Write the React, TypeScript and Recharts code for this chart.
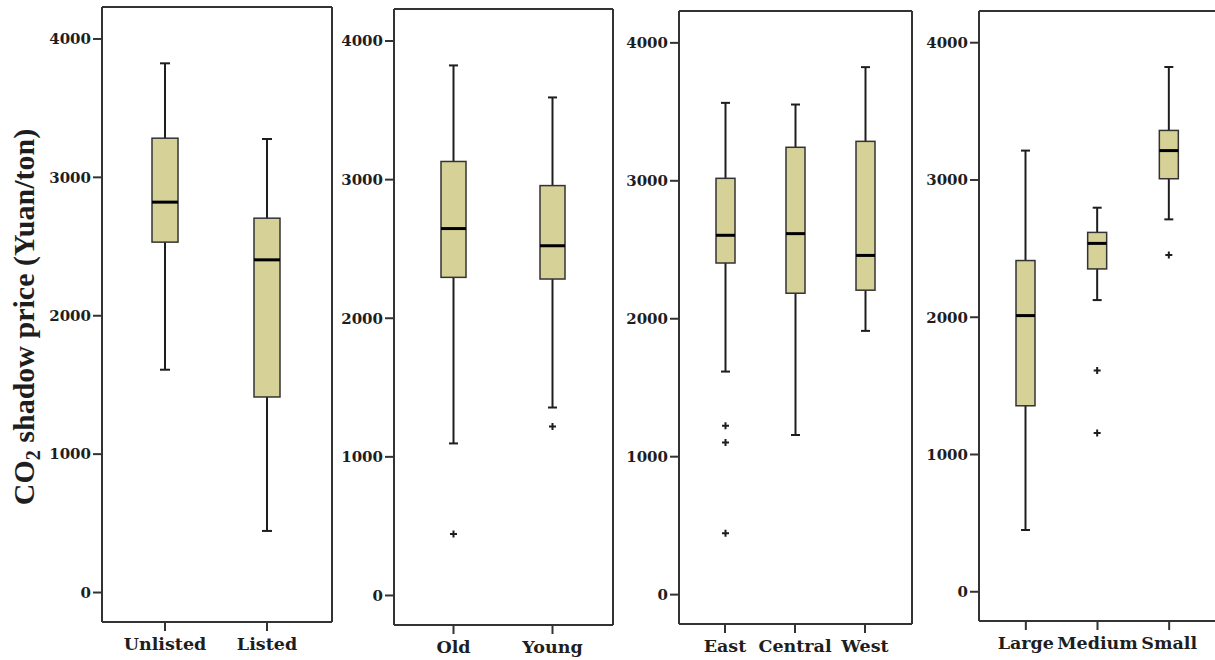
import React from "react";
import { ComposedChart, Bar, XAxis, YAxis, CartesianGrid } from "recharts";

// ---- data (Yuan/ton) ----
const listingCats = ["Unlisted", "Listed"];
const listingLow = [1610, 445];
const listingQ1 = [2532, 1413];
const listingMed = [2821, 2404];
const listingQ3 = [3283, 2705];
const listingHigh = [3824, 3277];
const listingOut: number[][] = [[], []];

const ageCats = ["Old", "Young"];
const ageLow = [1097, 1356];
const ageQ1 = [2295, 2283];
const ageMed = [2647, 2523];
const ageQ3 = [3131, 2957];
const ageHigh = [3824, 3593];
const ageOut: number[][] = [[444], [1219]];

const regionCats = ["East", "Central", "West"];
const regionLow = [1617, 1157, 1912];
const regionQ1 = [2404, 2185, 2207];
const regionMed = [2605, 2617, 2459];
const regionQ3 = [3018, 3243, 3286];
const regionHigh = [3565, 3553, 3824];
const regionOut: number[][] = [[1225, 1103, 444], [], []];

const sizeCats = ["Large", "Medium", "Small"];
const sizeLow = [450, 2125, 2713];
const sizeQ1 = [1355, 2352, 3009];
const sizeMed = [2012, 2538, 3214];
const sizeQ3 = [2413, 2618, 3361];
const sizeHigh = [3214, 2798, 3823];
const sizeOut: number[][] = [[], [1612, 1156], [2453]];

const yTicks = [0, 1000, 2000, 3000, 4000];
const yDomain = [-213, 4231];

const SERIF = '"Liberation Serif", "Times New Roman", serif';
const WIDE = '"DejaVu Serif", serif';
const BOX_FILL = "#d6d196";
const INK = "#1e1e1e";

function buildRows(
  cats: string[],
  low: number[],
  q1: number[],
  med: number[],
  q3: number[],
  high: number[],
  out: number[][]
) {
  return cats.map((name, i) => ({
    name,
    low: low[i],
    q1: q1[i],
    med: med[i],
    q3: q3[i],
    high: high[i],
    outliers: out[i],
    range: [Math.min(low[i], ...out[i]), high[i]],
  }));
}

// eslint-disable-next-line @typescript-eslint/no-explicit-any
function BoxShape(props: any) {
  const { x, y, width, height, payload, capWidth } = props;
  const top = Math.min(y, y + height);
  const h = Math.abs(height);
  const [lo, hi] = payload.range;
  const toY = (v: number) => top + (h * (hi - v)) / (hi - lo);
  const cx = x + width / 2;
  const half = capWidth / 2;
  return (
    <g>
      <line x1={cx} x2={cx} y1={toY(payload.high)} y2={toY(payload.q3)} stroke={INK} strokeWidth={2} />
      <line x1={cx} x2={cx} y1={toY(payload.q1)} y2={toY(payload.low)} stroke={INK} strokeWidth={2} />
      <line x1={cx - half} x2={cx + half} y1={toY(payload.high)} y2={toY(payload.high)} stroke={INK} strokeWidth={2} />
      <line x1={cx - half} x2={cx + half} y1={toY(payload.low)} y2={toY(payload.low)} stroke={INK} strokeWidth={2} />
      <rect
        x={x}
        y={toY(payload.q3)}
        width={width}
        height={toY(payload.q1) - toY(payload.q3)}
        fill={BOX_FILL}
        stroke="#333"
        strokeWidth={1.5}
      />
      <line x1={x} x2={x + width} y1={toY(payload.med)} y2={toY(payload.med)} stroke="#000" strokeWidth={3} />
      {payload.outliers.map((v: number, i: number) => (
        <path
          key={i}
          d={`M${cx - 3.5},${toY(v)}H${cx + 3.5}M${cx},${toY(v) - 3.5}V${toY(v) + 3.5}`}
          stroke={INK}
          strokeWidth={2}
        />
      ))}
    </g>
  );
}

function YTitle() {
  return (
    <text
      x={34}
      y={317}
      transform="rotate(-90 34 317)"
      textAnchor="middle"
      fontFamily={SERIF}
      fontWeight="bold"
      fontSize={30}
      fill={INK}
    >
      CO
      <tspan fontSize={20} dy={6}>2</tspan>
      <tspan dy={-6}> shadow price (Yuan/ton)</tspan>
    </text>
  );
}

const panels = [
  { rows: buildRows(listingCats, listingLow, listingQ1, listingMed, listingQ3, listingHigh, listingOut),
    left: 0, width: 345, frameL: 102, frameR: 332, top: 7, bottom: 622, axisW: 100, pad: [12, 14], bar: 26, cap: 10, title: true },
  { rows: buildRows(ageCats, ageLow, ageQ1, ageMed, ageQ3, ageHigh, ageOut),
    left: 330, width: 290, frameL: 394, frameR: 613, top: 9, bottom: 625, axisW: 60, pad: [10, 11], bar: 25, cap: 9, title: false },
  { rows: buildRows(regionCats, regionLow, regionQ1, regionMed, regionQ3, regionHigh, regionOut),
    left: 615, width: 305, frameL: 679, frameR: 912, top: 11, bottom: 624, axisW: 60, pad: [11, 12], bar: 19, cap: 9, title: false },
  { rows: buildRows(sizeCats, sizeLow, sizeQ1, sizeMed, sizeQ3, sizeHigh, sizeOut),
    left: 915, width: 305, frameL: 979, frameR: 1216, top: 11, bottom: 621, axisW: 60, pad: [11, 11], bar: 19, cap: 9, title: false },
];

const X_AXIS_H = 38;

// frame lines drawn by the grid at the plot edges
// eslint-disable-next-line @typescript-eslint/no-explicit-any
const frameH = ({ offset }: any) => [offset.top, offset.top + offset.height];
// eslint-disable-next-line @typescript-eslint/no-explicit-any
const frameV = ({ offset }: any) => [offset.left, offset.left + offset.width];

export default function App() {
  return (
    <div style={{ position: "absolute", left: 0, top: 0, width: 1215, height: 660, overflow: "hidden", background: "#fff" }}>
      {panels.map((p, i) => (
        <div key={i} style={{ position: "absolute", left: p.left, top: 0 }}>
          <ComposedChart
            width={p.width}
            height={660}
            data={p.rows}
            margin={{
              top: p.top,
              bottom: 660 - p.bottom - X_AXIS_H,
              left: p.frameL - p.left - p.axisW,
              right: p.left + p.width - p.frameR,
            }}
          >
            <CartesianGrid
              stroke="#333"
              strokeWidth={2}
              horizontalCoordinatesGenerator={frameH}
              verticalCoordinatesGenerator={frameV}
            />
            <XAxis
              dataKey="name"
              height={X_AXIS_H}
              padding={{ left: p.pad[0], right: p.pad[1] }}
              axisLine={{ stroke: "#333", strokeWidth: 2 }}
              tickLine={{ stroke: "#333", strokeWidth: 2 }}
              tickSize={9}
              tickMargin={7}
              tick={{ fontFamily: WIDE, fontWeight: "bold", fontSize: 17.5, fill: INK }}
              interval={0}
            />
            <YAxis
              type="number"
              domain={yDomain}
              ticks={yTicks}
              width={p.axisW}
              axisLine={{ stroke: "#333", strokeWidth: 2 }}
              tickLine={{ stroke: "#333", strokeWidth: 2 }}
              tickSize={9}
              tickMargin={2}
              tick={{ fontFamily: WIDE, fontWeight: "bold", fontSize: 15, fill: INK }}
              label={p.title ? <YTitle /> : undefined}
            />
            <Bar
              dataKey="range"
              barSize={p.bar}
              isAnimationActive={false}
              shape={(sp: any) => <BoxShape {...sp} capWidth={p.cap} />}
            />
          </ComposedChart>
        </div>
      ))}
    </div>
  );
}
